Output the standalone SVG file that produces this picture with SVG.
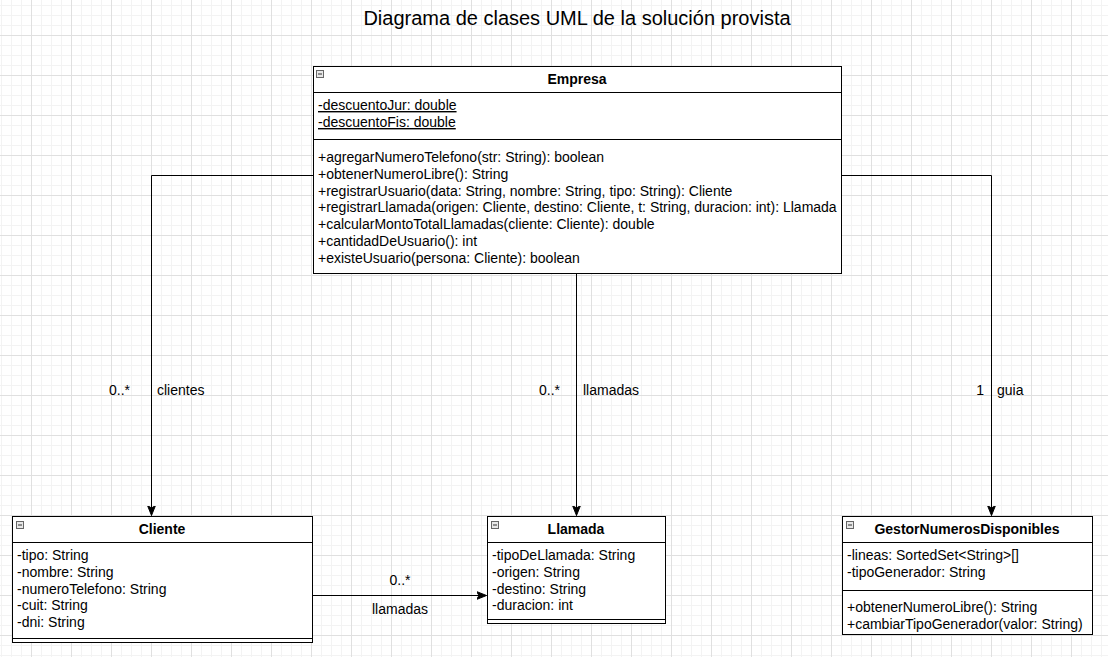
<svg xmlns="http://www.w3.org/2000/svg" width="1108" height="657" viewBox="0 0 1108 657">
<style>
text{font-family:"Liberation Sans",Arial,Helvetica,sans-serif;font-size:14px;fill:#000}
.title{font-size:20px}
.hdr{font-weight:bold;text-anchor:middle}
.box{fill:#fff;stroke:#000;stroke-width:1}
.sep{stroke:#000;stroke-width:1;fill:none}
.conn{stroke:#000;stroke-width:1;fill:none;marker-end:url(#arr)}
.ul{text-decoration:underline}
.ico{fill:#e8e8e8;stroke:#666;stroke-width:1}
.icol{stroke:#333;stroke-width:1}
.end{text-anchor:end}
.mid{text-anchor:middle}
</style>
<defs>
<pattern id="grid" patternUnits="userSpaceOnUse" x="31" y="35" width="40" height="40">
<path d="M10.5 0V40M20.5 0V40M30.5 0V40M0 10.5H40M0 20.5H40M0 30.5H40" stroke="#f3f3f3" stroke-width="1" fill="none"/>
<path d="M0.5 0V40M0 0.5H40" stroke="#e0e0e0" stroke-width="1" fill="none"/>
</pattern>
<marker id="arr" markerUnits="userSpaceOnUse" markerWidth="12" markerHeight="10" viewBox="0 0 12 10" refX="10" refY="5" orient="auto">
<path d="M0,1 L10,5 L0,9 L2.5,5 Z" fill="#000" stroke="#000" stroke-width="1"/>
</marker>
</defs>
<rect x="0" y="0" width="1108" height="657" fill="#fff"/>
<rect x="0" y="0" width="1108" height="657" fill="url(#grid)"/>
<text class="title mid" x="577" y="25">Diagrama de clases UML de la solución provista</text>

<g id="connectors">
<path class="conn" d="M313.5 175.5H151.5V515.5"/>
<path class="conn" d="M576.5 273.5V515.5"/>
<path class="conn" d="M841.5 175.5H991.5V515.5"/>
<path class="conn" d="M312.5 595.5H486.5"/>
<text class="end" x="130" y="395">0..*</text>
<text x="157" y="395">clientes</text>
<text class="end" x="560" y="395">0..*</text>
<text x="583" y="395">llamadas</text>
<text class="end" x="984" y="395">1</text>
<text x="997" y="395">guia</text>
<text class="mid" x="400" y="585">0..*</text>
<text class="mid" x="400" y="614">llamadas</text>
</g>

<g id="Empresa">
<rect class="box" x="313.5" y="66.5" width="528" height="207"/>
<path class="sep" d="M313.5 92.5H841.5M313.5 139.5H841.5"/>
<rect class="ico" x="316.5" y="70.5" width="7" height="7"/>
<path class="icol" d="M318 74H322"/>
<text class="hdr" x="577" y="84">Empresa</text>
<text class="ul" x="318" y="110">-descuentoJur: double</text>
<text class="ul" x="318" y="127">-descuentoFis: double</text>
<text x="318" y="162">+agregarNumeroTelefono(str: String): boolean</text>
<text x="318" y="178.8">+obtenerNumeroLibre(): String</text>
<text x="318" y="195.6">+registrarUsuario(data: String, nombre: String, tipo: String): Cliente</text>
<text x="318" y="212.4">+registrarLlamada(origen: Cliente, destino: Cliente, t: String, duracion: int): Llamada</text>
<text x="318" y="229.2">+calcularMontoTotalLlamadas(cliente: Cliente): double</text>
<text x="318" y="246">+cantidadDeUsuario(): int</text>
<text x="318" y="262.8">+existeUsuario(persona: Cliente): boolean</text>
</g>

<g id="Cliente">
<rect class="box" x="12.5" y="516.5" width="300" height="126"/>
<path class="sep" d="M12.5 542.5H312.5M12.5 638.5H312.5"/>
<rect class="ico" x="16.5" y="521.5" width="7" height="7"/>
<path class="icol" d="M18 525H22"/>
<text class="hdr" x="162" y="534">Cliente</text>
<text x="17" y="560">-tipo: String</text>
<text x="17" y="577">-nombre: String</text>
<text x="17" y="594">-numeroTelefono: String</text>
<text x="17" y="610">-cuit: String</text>
<text x="17" y="627">-dni: String</text>
</g>

<g id="Llamada">
<rect class="box" x="487.5" y="516.5" width="178" height="107"/>
<path class="sep" d="M487.5 542.5H665.5M487.5 619.5H665.5"/>
<rect class="ico" x="491.5" y="521.5" width="7" height="7"/>
<path class="icol" d="M493 525H497"/>
<text class="hdr" x="576" y="534">Llamada</text>
<text x="492" y="560">-tipoDeLlamada: String</text>
<text x="492" y="577">-origen: String</text>
<text x="492" y="594">-destino: String</text>
<text x="492" y="610">-duracion: int</text>
</g>

<g id="GestorNumerosDisponibles">
<rect class="box" x="842.5" y="516.5" width="250" height="118"/>
<path class="sep" d="M842.5 542.5H1092.5M842.5 590.5H1092.5"/>
<rect class="ico" x="846.5" y="521.5" width="7" height="7"/>
<path class="icol" d="M848 525H852"/>
<text class="hdr" x="967" y="534">GestorNumerosDisponibles</text>
<text x="847" y="560">-lineas: SortedSet&lt;String&gt;[]</text>
<text x="847" y="577">-tipoGenerador: String</text>
<text x="847" y="612">+obtenerNumeroLibre(): String</text>
<text x="847" y="629">+cambiarTipoGenerador(valor: String)</text>
</g>
</svg>
